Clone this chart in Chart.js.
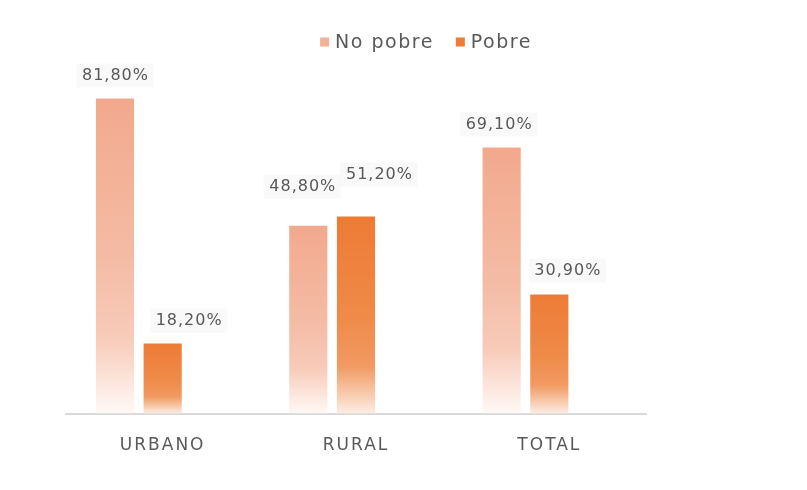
<!DOCTYPE html>
<html>
<head>
<meta charset="utf-8">
<script src="https://cdn.jsdelivr.net/npm/chart.js@4/dist/chart.umd.min.js"></script>
<style>
html,body{margin:0;padding:0;background:#fff;}
#wrap{width:807px;height:490px;position:relative;}
</style>
</head>
<body>
<div id="wrap"><canvas id="c" width="807" height="490"></canvas></div>
<script>
const categories = ["URBANO", "RURAL", "TOTAL"];
const noPobre = [81.8, 48.8, 69.1];
const pobre = [18.2, 51.2, 30.9];
const seriesNames = ["No pobre", "Pobre"];

const FONT = '"DejaVu Sans", sans-serif';
const TEXT = '#595959';

function fmt(v){ return v.toFixed(2).replace('.', ',') + '%'; }

function grad(stops){
  return function(ctx){
    const chart = ctx.chart;
    if (!chart.chartArea || !chart.scales || !chart.scales.y) return stops[0][1];
    const v = ctx.raw;
    if (v == null) return stops[0][1];
    const y = chart.scales.y;
    const top = y.getPixelForValue(v);
    const bot = y.getPixelForValue(0);
    const g = chart.ctx.createLinearGradient(0, top, 0, bot);
    stops.forEach(s => g.addColorStop(s[0], s[1]));
    return g;
  };
}

const spacingPlugin = {
  id: 'spacing',
  beforeDraw(chart){ chart.ctx.letterSpacing = '2px'; }
};

const labelPlugin = {
  id: 'valLabels',
  afterDatasetsDraw(chart, args, opts){
    const ctx = chart.ctx;
    ctx.save();
    ctx.letterSpacing = '1px';
    ctx.font = '16px ' + FONT;
    ctx.textAlign = 'center';
    ctx.textBaseline = 'middle';
    chart.data.datasets.forEach((ds, di) => {
      const off = opts.offsets[di];
      if (!off) return;
      const meta = chart.getDatasetMeta(di);
      meta.data.forEach((bar, i) => {
        const v = ds.data[i];
        if (v == null) return;
        const x = bar.x + off.dx[i];
        const yy = bar.y + off.dy[i];
        const t = fmt(v);
        const w = ctx.measureText(t).width;
        ctx.fillStyle = 'rgba(244,244,244,0.5)';
        ctx.fillRect(x - w/2 - 5, yy - 12, w + 10, 24);
        ctx.fillStyle = TEXT;
        ctx.fillText(t, x + 0.5, yy);
      });
    });
    ctx.restore();
  }
};

const legendPlugin = {
  id: 'customLegend',
  afterDraw(chart, args, opts){
    const ctx = chart.ctx;
    ctx.save();
    ctx.letterSpacing = '1.5px';
    ctx.font = '19px ' + FONT;
    ctx.textBaseline = 'middle';
    ctx.textAlign = 'left';
    const items = chart.data.datasets.filter(d => d.label).map((d, i) => ({ text: d.label, color: opts.colors[i] }));
    const box = 9, gap = 6, sep = 22;
    const widths = items.map(it => box + gap + ctx.measureText(it.text).width);
    const total = widths.reduce((a, b) => a + b, 0) + sep * (items.length - 1);
    let x = opts.centerX - total / 2;
    items.forEach((it, i) => {
      ctx.fillStyle = it.color;
      ctx.fillRect(x, opts.y - box / 2, box, box);
      ctx.fillStyle = TEXT;
      ctx.fillText(it.text, x + box + gap, opts.y + 1);
      x += widths[i] + sep;
    });
    ctx.restore();
  }
};

new Chart(document.getElementById('c'), {
  type: 'bar',
  data: {
    labels: categories,
    datasets: [
      { label: seriesNames[0], data: noPobre,
        backgroundColor: grad([[0, '#F2A98D'], [0.5, '#F4BBA4'], [0.76, '#F7CBB9'], [1, '#FFF9F6']]),
        borderWidth: 0 },
      { label: seriesNames[1], data: pobre,
        backgroundColor: grad([[0, '#ED7B35'], [0.5, '#EF8A48'], [0.76, '#F19A62'], [1, '#FCEDE3']]),
        borderWidth: 0 },
      { label: '', data: [null, null, null], backgroundColor: 'rgba(0,0,0,0)' }
    ]
  },
  options: {
    responsive: false,
    animation: false,
    devicePixelRatio: 1,
    layout: { padding: { left: 66, right: 161, top: 67, bottom: 12 } },
    barPercentage: 0.8,
    categoryPercentage: 0.74,
    plugins: {
      legend: { display: false },
      tooltip: { enabled: false },
      customLegend: { colors: ['#F4B096', '#EE7B36'], centerX: 426, y: 42 },
      valLabels: {
        offsets: [
          { dx: [0, -6, -3], dy: [-23, -39, -23] },
          { dx: [26, 23, 18], dy: [-23, -42, -24] }
        ]
      }
    },
    scales: {
      x: {
        grid: { display: false, drawTicks: false },
        border: { display: true, color: '#D9D9D9', width: 2 },
        ticks: { color: TEXT, font: { size: 17, family: FONT }, padding: 22 }
      },
      y: {
        display: false,
        min: 0,
        max: 90
      }
    }
  },
  plugins: [spacingPlugin, labelPlugin, legendPlugin]
});
</script>
</body>
</html>
